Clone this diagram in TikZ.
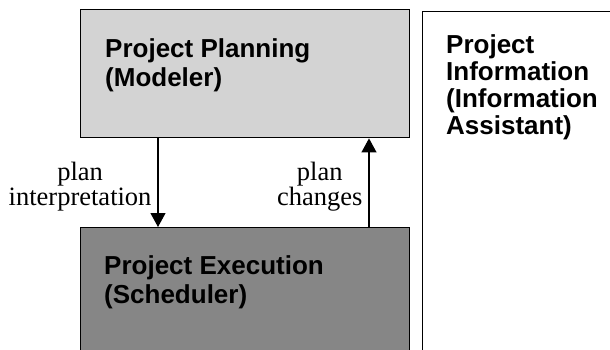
\documentclass[tikz,border=0pt]{standalone}
\usepackage{fontspec}
\setmainfont{Liberation Serif}
\setsansfont{Liberation Sans}
\usetikzlibrary{arrows.meta}
\definecolor{planfill}{HTML}{D3D3D3}
\definecolor{execfill}{HTML}{868686}
\begin{document}
\begin{tikzpicture}[
        x=1pt, y=-1pt,
        module/.style={draw, line width=1.4pt, anchor=north west, minimum width=329pt, minimum height=128pt},
        module_text/.style={anchor=north west, align=left, inner sep=0pt, font=\sffamily\bfseries\fontsize{26}{28.5}\selectfont},
        flow/.style={line width=1.1pt, -{Triangle[width=15pt,length=14pt]}},
        flow_label/.style={midway, left=6pt, yshift=-4pt, align=center, inner sep=0pt, font=\fontsize{26.5}{25}\selectfont}
    ]
    \useasboundingbox (0,0) rectangle (610,349);
    \clip (0,0) rectangle (610,349);

    % Moduly systému (spodní a pravý rám přesahují okraj)
    \node[module, fill=planfill] (planning) at (80, 9) {};
    \node[module, fill=execfill, minimum height=170pt] (execution) at (80, 227) {};
    \node[draw, line width=1.2pt, anchor=north west, minimum width=240pt, minimum height=380pt] (information) at (422, 11) {};

    % Popisky modulů
    \node[module_text] (planning_text) at (105, 38.5) {Project Planning\\(Modeler)};
    \node[module_text] (execution_text) at (104, 255.5) {Project Execution\\(Scheduler)};
    \node[module_text, font=\sffamily\bfseries\fontsize{26}{27}\selectfont] (information_text) at (446, 34.5) {Project\\Information\\(Information\\Assistant)};

    % Tok mezi plánováním a prováděním
    \draw[flow] (158,0 |- planning.south) -- (158,0 |- execution.north) node[flow_label] (interp_label) {plan\\interpretation};
    \draw[flow] (369,0 |- execution.north) -- (369,0 |- planning.south) node[flow_label] (changes_label) {plan\\changes};

\end{tikzpicture}
\end{document}
